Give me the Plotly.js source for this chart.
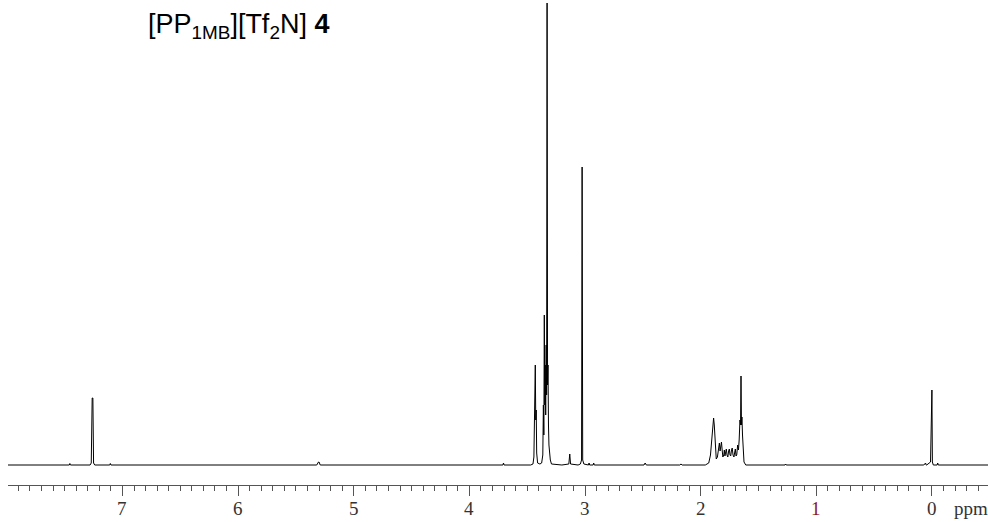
<!DOCTYPE html>
<html>
<head>
<meta charset="utf-8">
<script src="https://cdn.plot.ly/plotly-3.0.1.min.js"></script>
<style>html,body{margin:0;padding:0;background:#fff;}#chart{width:988px;height:522px;}</style>
</head>
<body>
<div id="chart"></div>
<script>
// Chemical shift (ppm) of each trace point
var shiftPpm = [
  8.00, 7.46, 7.455, 7.45, 7.28, 7.27, 7.262, 7.256, 7.25, 7.24, 7.11, 7.105, 7.10,
  5.32, 5.305, 5.30, 5.29, 3.71, 3.705, 3.70,
  3.47, 3.45, 3.442, 3.438, 3.434, 3.430, 3.426, 3.422, 3.418, 3.41, 3.39, 3.375,
  3.365, 3.36, 3.356, 3.352, 3.348, 3.344, 3.340, 3.336, 3.332, 3.328, 3.324, 3.320,
  3.316, 3.312, 3.30, 3.29, 3.20, 3.14, 3.132, 3.125, 3.06, 3.04, 3.03, 3.025, 3.02,
  3.01, 2.97, 2.965, 2.96, 2.93, 2.925, 2.92, 2.49, 2.48, 2.47, 2.18, 2.17, 2.16,
  1.96, 1.93, 1.915, 1.90, 1.893, 1.888, 1.882, 1.875, 1.865, 1.855, 1.845, 1.838,
  1.832, 1.826, 1.820, 1.814, 1.808, 1.800, 1.795, 1.790, 1.785, 1.778, 1.772, 1.765,
  1.758, 1.752, 1.746, 1.740, 1.733, 1.727, 1.720, 1.712, 1.705, 1.700, 1.694, 1.688,
  1.680, 1.673, 1.667, 1.660, 1.655, 1.651, 1.647, 1.643, 1.638, 1.633, 1.625, 1.61,
  1.27, 1.265, 1.26, 0.07, 0.055, 0.05, 0.045, 0.012, 0.004, 0.0, -0.004, -0.012,
  -0.045, -0.05, -0.055, -0.50
];
// Signal intensity (arbitrary units) of each trace point
var intensity = [
  0, 0, 1.5, 0, 0, 2, 67, 67, 2, 0, 0, 1.5, 0,
  0, 3, 3, 0, 0, 2, 0,
  0, 1, 8, 58, 40, 100, 45, 55, 12, 2, 1, 2,
  10, 60, 30, 150, 60, 100, 50, 120, 70, 462, 80, 100,
  40, 20, 5, 1, 0, 1, 11, 1, 0, 1, 5, 298, 5,
  1, 0, 2, 0, 0, 2, 0, 0, 2, 0, 0, 1, 0,
  0, 2, 10, 30, 44, 47, 40, 20, 6, 8, 18, 22,
  14, 20, 23, 15, 8, 10, 15, 9, 12, 16, 10, 8,
  14, 16, 10, 9, 15, 17, 10, 8, 13, 16, 9, 10,
  20, 15, 25, 45, 40, 89, 40, 48, 30, 12, 3, 0,
  0, 1, 0, 0, 2, 0, 0, 3, 75, 75, 3, 0,
  0, 2, 0, 0
];
// Axis tick values and labels
var tickPpm = [7, 6, 5, 4, 3, 2, 1, 0];
var tickLabels = ['7', '6', '5', '4', '3', '2', '1', '0'];
var tickLabelColors = ['#333333', '#333333', '#333333', '#333333', '#333333', '#333333', '#8b1a1a', '#333333'];
var titleText = '[PP<sub>1MB</sub>][Tf<sub>2</sub>N] <b>4</b>';
var unitText = 'ppm';
var unitPosPpm = -0.335;

var trace = {
  x: shiftPpm,
  y: intensity,
  type: 'scatter',
  mode: 'lines',
  line: {color: '#000000', width: 1},
  hoverinfo: 'skip'
};

var labelFont = 'Liberation Serif, Times New Roman, serif';
var annotations = [
  {
    text: titleText,
    xref: 'paper', yref: 'paper',
    x: 0.141, y: 0.946,
    xanchor: 'left', yanchor: 'middle',
    showarrow: false,
    font: {family: 'Liberation Sans, Arial, sans-serif', size: 27, color: '#000000'}
  },
  {
    text: unitText,
    xref: 'x', yref: 'paper',
    x: unitPosPpm, y: 0,
    xanchor: 'center', yanchor: 'top',
    yshift: -11,
    showarrow: false,
    font: {family: labelFont, size: 19, color: '#333333'}
  }
];
tickPpm.forEach(function (v, i) {
  annotations.push({
    text: tickLabels[i],
    xref: 'x', yref: 'paper',
    x: v, y: 0,
    xanchor: 'center', yanchor: 'top',
    yshift: -11,
    showarrow: false,
    font: {family: labelFont, size: 19, color: tickLabelColors[i]}
  });
});

var layout = {
  width: 988,
  height: 522,
  margin: {l: 8, r: 0, t: 0, b: 37},
  paper_bgcolor: '#ffffff',
  plot_bgcolor: '#ffffff',
  showlegend: false,
  xaxis: {
    range: [7.99, -0.485],
    showgrid: false,
    zeroline: false,
    showline: true,
    linecolor: '#555555',
    linewidth: 1,
    ticks: 'outside',
    ticklen: 10,
    tickcolor: '#555555',
    tickwidth: 1,
    tickvals: tickPpm,
    showticklabels: false,
    minor: {dtick: 0.1, ticks: 'outside', ticklen: 5, tickcolor: '#555555', tickwidth: 1, showgrid: false}
  },
  yaxis: {
    range: [-20, 465],
    visible: false,
    showgrid: false,
    zeroline: false
  },
  annotations: annotations
};

Plotly.newPlot('chart', [trace], layout, {staticPlot: true, displayModeBar: false});
</script>
</body>
</html>
